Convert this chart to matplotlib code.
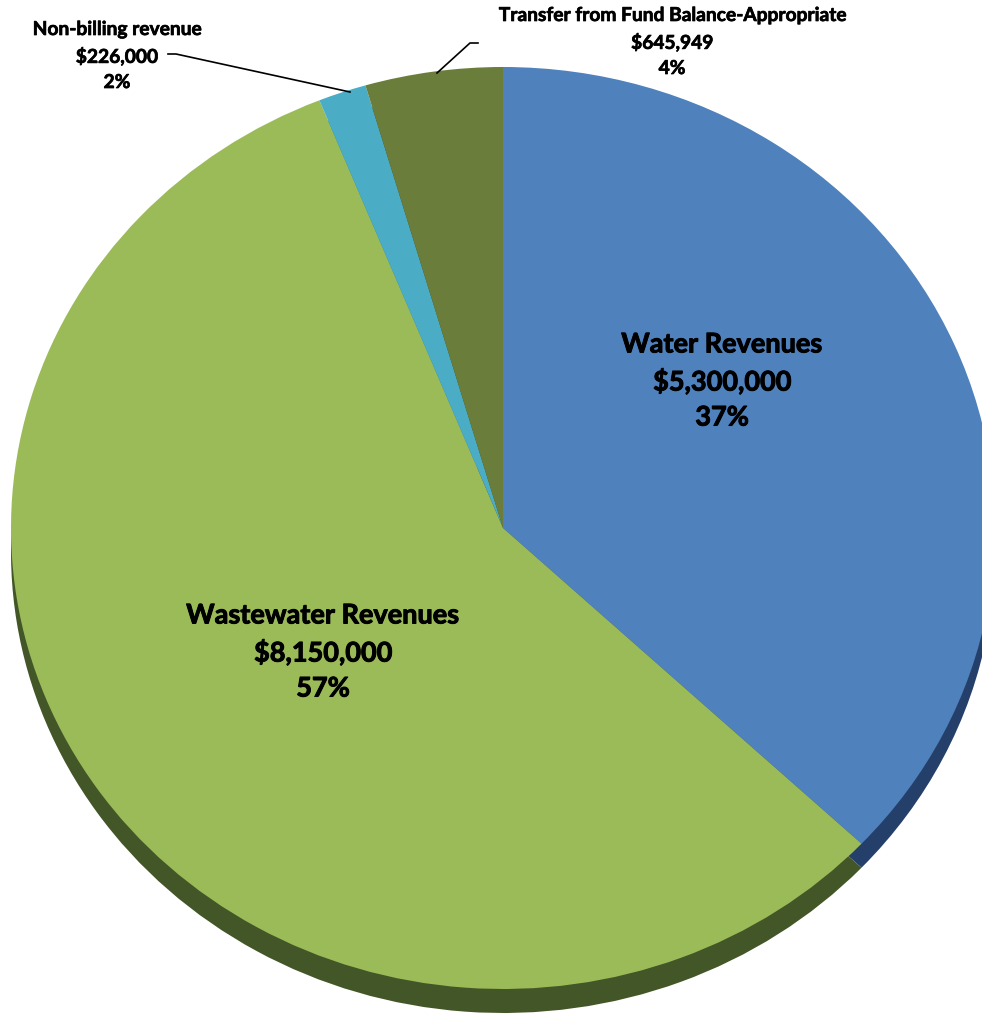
import matplotlib
matplotlib.use('Agg')
import matplotlib.pyplot as plt
import matplotlib.patheffects as pe

# revenue sources, clockwise from 12 o'clock
names = ['Water Revenues', 'Wastewater Revenues', 'Non-billing revenue',
         'Transfer from Fund Balance-Appropriate']
amounts = [5300000, 8150000, 226000, 645949]
pct_labels = ['37%', '57%', '2%', '4%']

top_colors = ['#4F81BD', '#9BBB59', '#4BACC6', '#6B7D3A']
side_colors = ['#24406A', '#435627', '#2C7F95', '#3F4A22']

# pie geometry in pixels (ellipse, tilted look)
W, H = 982, 1018
cx, cy = 503, 528
rx, ry = 492, 461


def px(x, y):
    # pixel (from top-left) -> data coords where pie is unit circle
    return (x - cx) / rx, (cy - y) / ry


fig = plt.figure(figsize=(W / 100, H / 100), dpi=100)
ax = fig.add_axes([0, 0, 1, 1])

# side of the 3d pie: same pie shifted down, darker
ax.pie(amounts, colors=side_colors, startangle=90, counterclock=False,
       center=(0, -24 / ry), radius=1.0, frame=True,
       wedgeprops={'linewidth': 0})
ax.pie(amounts, colors=top_colors, startangle=90, counterclock=False,
       center=(0, 0), radius=1.0, frame=True,
       wedgeprops={'linewidth': 0})
ax.set_aspect('auto')
ax.set_xlim((0 - cx) / rx, (W - cx) / rx)
ax.set_ylim((cy - H) / ry, cy / ry)
ax.axis('off')

big = dict(family=['Lato', 'DejaVu Sans'], fontweight='bold', fontsize=19.5,
           ha='center', va='center', linespacing=1.55, color='black',
           path_effects=[pe.withStroke(linewidth=0.7, foreground='black')])
small = dict(family=['Lato', 'DejaVu Sans'], fontweight='bold', fontsize=13.8,
             ha='center', va='center', linespacing=1.58, color='black',
             path_effects=[pe.withStroke(linewidth=0.5, foreground='black')])

ax.text(*px(722, 381), '%s\n$%s\n%s' % (names[0], format(amounts[0], ','), pct_labels[0]), **big)
ax.text(*px(323, 652), '%s\n$%s\n%s' % (names[1], format(amounts[1], ','), pct_labels[1]), **big)
ax.text(*px(117, 56), '%s\n$%s\n%s' % (names[2], format(amounts[2], ','), pct_labels[2]), **small)
ax.text(*px(672, 42), '%s\n$%s\n%s' % (names[3], format(amounts[3], ','), pct_labels[3]), **small)

# leader lines
l1 = [px(168, 54), px(176, 54), px(350, 92)]
ax.plot([p[0] for p in l1], [p[1] for p in l1], color='black', lw=1.2)
l2 = [px(478, 43), px(470, 43), px(437, 73)]
ax.plot([p[0] for p in l2], [p[1] for p in l2], color='black', lw=1.2)

plt.savefig('out.png', dpi=100)
